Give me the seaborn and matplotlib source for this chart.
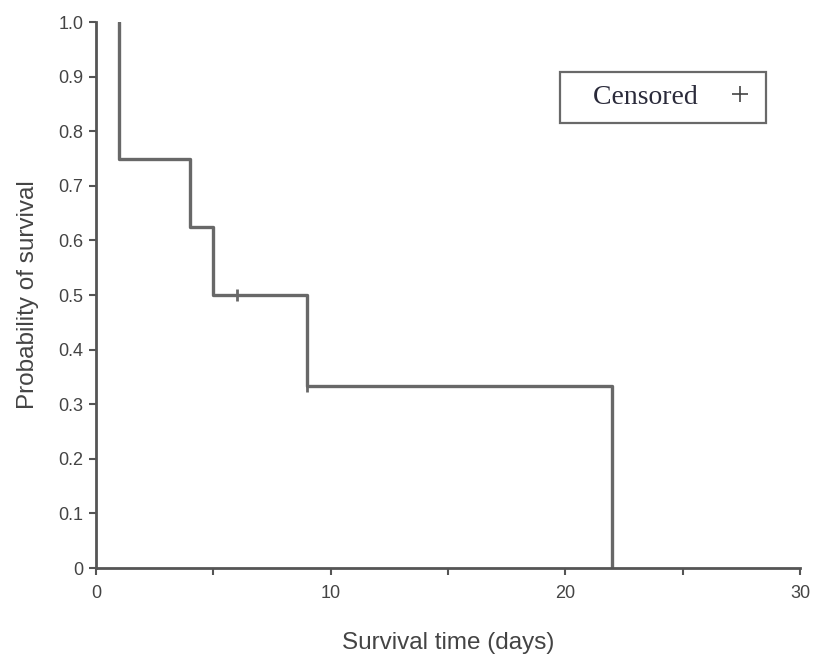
import matplotlib
matplotlib.use("Agg")
import matplotlib.pyplot as plt
from matplotlib.lines import Line2D
import seaborn as sns
import pandas as pd

# Kaplan-Meier estimate: step times and survival probability after each step
step_times = [1, 1, 4, 5, 9, 22]
survival = [1.0, 0.75, 0.625, 0.5, 0.333, 0.0]

# Censored observations (time, survival level)
censor_times = [6, 9]
censor_surv = [0.5, 0.333]

x_ticks = [0, 10, 20, 30]
y_ticks = [0, 0.1, 0.2, 0.3, 0.4, 0.5, 0.6, 0.7, 0.8, 0.9, 1.0]
y_tick_labels = ["0", "0.1", "0.2", "0.3", "0.4", "0.5", "0.6", "0.7", "0.8", "0.9", "1.0"]

sns.set_style("white")
plt.rcParams["font.family"] = ["Liberation Sans", "DejaVu Sans"]

line_col = "#686868"
axis_col = "#555555"
text_col = "#444444"

fig = plt.figure(figsize=(8.13, 6.67), dpi=100)
ax = fig.add_axes([0.118, 0.1484, 0.866, 0.8186])

km = pd.DataFrame({"time": step_times, "surv": survival})
sns.lineplot(data=km, x="time", y="surv", ax=ax, estimator=None, sort=False,
             drawstyle="steps-post", color=line_col, linewidth=2.4)

cens = pd.DataFrame({"time": censor_times, "surv": censor_surv})
sns.scatterplot(data=cens, x="time", y="surv", ax=ax, marker="|", s=80,
                color=line_col, linewidth=2.0)

ax.set_xlim(0, 30)
ax.set_ylim(0, 1.0)
ax.set_xticks(x_ticks)
ax.set_xticks([5, 15, 25], minor=True)
ax.set_yticks(y_ticks)
ax.set_yticklabels(y_tick_labels)

for side in ["top", "right"]:
    ax.spines[side].set_visible(False)
for side in ["left", "bottom"]:
    ax.spines[side].set_color(axis_col)
    ax.spines[side].set_linewidth(2.0)

ax.tick_params(axis="both", which="both", direction="out", colors=axis_col,
               bottom=True, left=True, length=5, width=1.5,
               labelsize=13, labelcolor=text_col, pad=4)
ax.tick_params(axis="x", pad=7)

ax.set_xlabel("Survival time (days)", fontsize=17.5, color=text_col, labelpad=22)
ax.set_ylabel("Probability of survival", fontsize=17.5, color=text_col, labelpad=14)

handle = Line2D([], [], linestyle="none", marker="+", markersize=11,
                markeredgewidth=1.2, color=text_col)
leg = ax.legend([handle], ["   Censored"], loc="upper left",
                bbox_to_anchor=(0.659, 0.908), markerfirst=False, frameon=True,
                fancybox=False, edgecolor="#444444", handlelength=1.0,
                handletextpad=1.0, borderpad=0.45, borderaxespad=0,
                prop={"family": "Liberation Serif", "size": 20})
leg.get_frame().set_linewidth(1.6)
for t in leg.get_texts():
    t.set_color("#2a2a3a")

fig.savefig("out.png", dpi=100, facecolor="white")
